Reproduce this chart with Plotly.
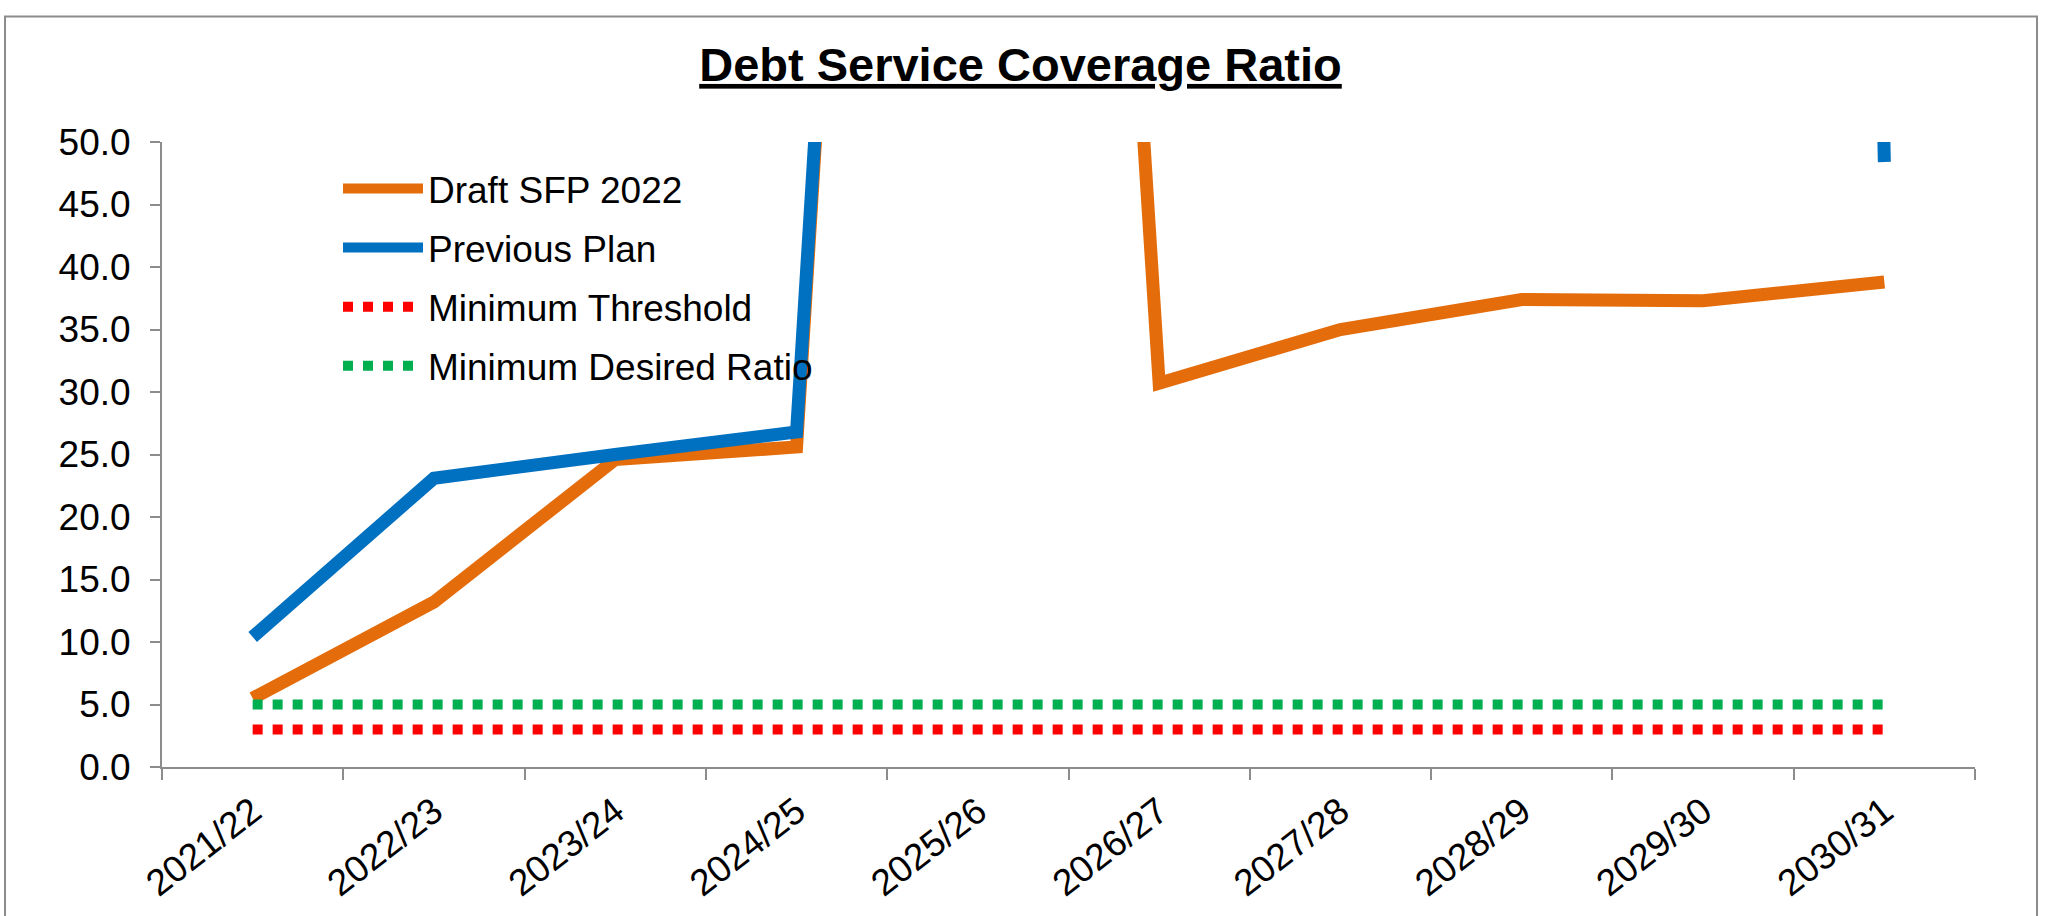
import plotly.graph_objects as go

# ---- data ----
categories = ["2021/22", "2022/23", "2023/24", "2024/25", "2025/26",
              "2026/27", "2027/28", "2028/29", "2029/30", "2030/31"]
draft_sfp_2022 = [5.5, 13.2, 24.6, 25.6, 260.0, 30.7, 35.0, 37.4, 37.3, 38.8]
previous_plan = [10.4, 23.1, 25.0, 26.8, 260.0, 300.0, 340.0, 380.0, 700.0, 48.4]
minimum_threshold = [3.0, 3.0, 3.0, 3.0, 3.0, 3.0, 3.0, 3.0, 3.0, 3.0]
minimum_desired = [5.0, 5.0, 5.0, 5.0, 5.0, 5.0, 5.0, 5.0, 5.0, 5.0]
y_ticks = [0, 5, 10, 15, 20, 25, 30, 35, 40, 45, 50]

# ---- layout constants (pixels) ----
W, H = 2047, 916
L, R, T, B = 162, 72, 142, 146
FONT = "Liberation Sans, Arial, sans-serif"
GREY = "#8c8c8c"

fig = go.Figure()
fig.add_trace(go.Scatter(x=categories, y=draft_sfp_2022, name="Draft SFP 2022",
                         mode="lines", line=dict(color="#E46C0A", width=13),
                         legendgroup="a"))
fig.add_trace(go.Scatter(x=categories, y=previous_plan, name="Previous Plan",
                         mode="lines", line=dict(color="#0070C0", width=13),
                         legendgroup="b"))
fig.add_trace(go.Scatter(x=categories, y=minimum_threshold, name="Minimum Threshold",
                         mode="lines", line=dict(color="#FF0000", width=10, dash="dot"),
                         legendgroup="c"))
fig.add_trace(go.Scatter(x=categories, y=minimum_desired, name="Minimum Desired Ratio",
                         mode="lines", line=dict(color="#00B050", width=10, dash="dot"),
                         legendgroup="d"))

pw = W - L - R
ph = H - T - B


def px_x(p):
    return (p - L) / pw


def px_y(p):
    return (H - B - p) / ph


fig.update_layout(
    width=W, height=H, autosize=False,
    margin=dict(l=L, r=R, t=T, b=B),
    paper_bgcolor="white", plot_bgcolor="white",
    font=dict(family=FONT, size=37, color="black"),
    title=dict(text="<b><u>Debt Service Coverage Ratio</u></b>",
               font=dict(family=FONT, size=47, color="black"),
               x=1020.5 / W, xref="container", xanchor="center",
               y=1 - 64.5 / H, yref="container", yanchor="middle"),
    showlegend=True,
    hovermode=False,
    legend=dict(x=px_x(338), y=px_y(158), xanchor="left", yanchor="top",
                bgcolor="rgba(0,0,0,0)", font=dict(family=FONT, size=37),
                itemwidth=80, tracegroupgap=8, traceorder="grouped"),
    xaxis=dict(type="category", range=[-0.5, 9.5], tickson="boundaries",
               ticks="outside", ticklen=11, tickcolor=GREY, tickwidth=2,
               showline=True, linecolor=GREY, linewidth=2, showgrid=False,
               tickangle=-38, tickfont=dict(size=37), zeroline=False,
               ticklabelstandoff=6),
    yaxis=dict(range=[0, 50], tickvals=y_ticks, tickformat=".1f",
               ticks="outside", ticklen=10, tickcolor=GREY, tickwidth=2,
               showline=True, linecolor=GREY, linewidth=2, showgrid=False,
               zeroline=False, tickfont=dict(size=37), ticklabelstandoff=12),
    shapes=[dict(type="rect", xref="paper", yref="paper",
                 x0=px_x(5), x1=px_x(2037), y0=px_y(930), y1=px_y(16),
                 line=dict(color=GREY, width=2), fillcolor="rgba(0,0,0,0)",
                 layer="below")],
)

fig.write_html("out.html",
               config={"displayModeBar": False, "staticPlot": True},
               post_script="document.body.style.margin='0';")
